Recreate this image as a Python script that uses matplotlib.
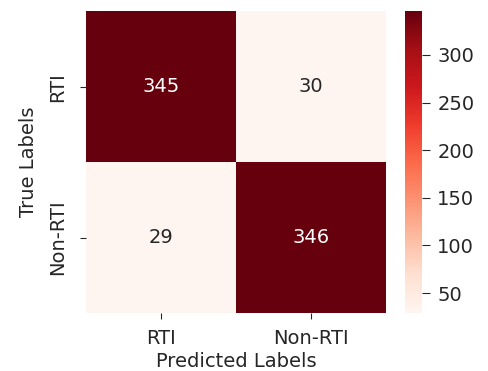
import matplotlib.pyplot as plt
import numpy as np
import seaborn as sns

labels = ['RTI', 'Non-RTI']
cm = [[345, 30],
      [29, 346]]

plt.rcParams['text.color'] = '#262626'
plt.rcParams['xtick.color'] = '#262626'
plt.rcParams['ytick.color'] = '#262626'
plt.rcParams['axes.labelcolor'] = '#262626'

fig = plt.figure(figsize=(4.89, 3.71), dpi=100)
ax = fig.add_axes([0.176, 0.156, 0.613, 0.814])
cax = fig.add_axes([0.828, 0.156, 0.035, 0.814])

sns.heatmap(np.array(cm), annot=True, fmt='d', cmap='Reds',
            xticklabels=labels, yticklabels=labels,
            ax=ax, cbar_ax=cax, annot_kws={'fontsize': 14})

ax.set_xlabel('Predicted Labels', fontsize=14, labelpad=3)
ax.set_ylabel('True Labels', fontsize=14, labelpad=7.5)
ax.tick_params(axis='x', labelsize=14, length=4.5, pad=7)
ax.tick_params(axis='y', labelsize=14, length=4.5, pad=9)
cax.tick_params(labelsize=14, length=6, pad=5)

plt.savefig('out.png')
